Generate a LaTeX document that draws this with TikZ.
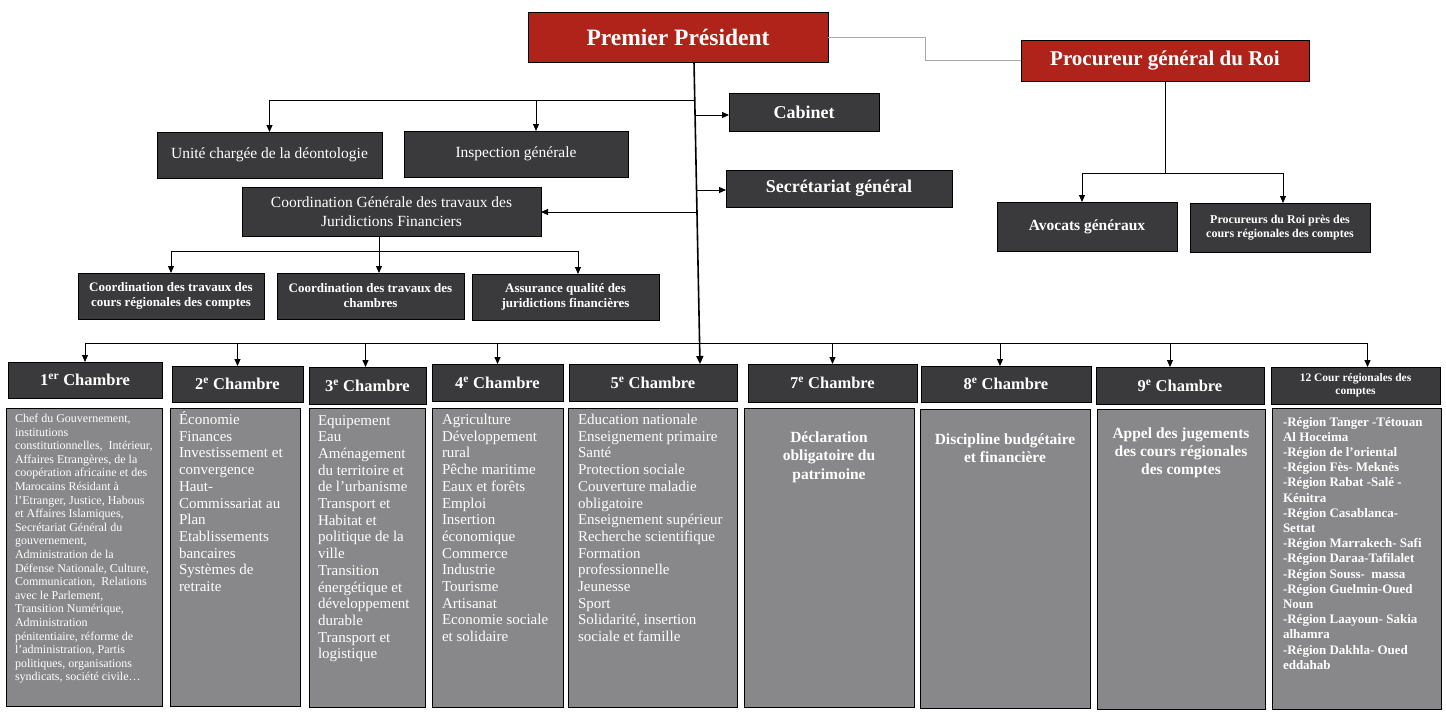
\documentclass[tikz,border=0pt]{standalone}
\usepackage{fontspec}
\setmainfont{Liberation Serif}
\usetikzlibrary{arrows.meta}
\definecolor{myred}{HTML}{B0231A}
\definecolor{mydark}{HTML}{3A3A3C}
\definecolor{mygrey}{HTML}{88888A}
\definecolor{lgrey}{HTML}{A8A8A8}
\tikzset{
  box/.style={draw=black, line width=1pt, inner sep=0pt, outer sep=0pt, anchor=north west, text=white, align=center},
  redbox/.style={box, fill=myred},
  darkbox/.style={box, fill=mydark},
  greybox/.style={box, fill=mygrey},
  txt/.style={inner sep=0pt, outer sep=0pt, anchor=base west, text=white},
  ctxt/.style={inner sep=0pt, outer sep=0pt, anchor=base, text=white},
  conn/.style={draw=black, line width=0.9pt},
  arr/.style={conn, -{Triangle[length=7pt,width=6pt]}},
  hdr/.style={darkbox, font=\fontsize{16.5}{19}\selectfont\bfseries},
  body/.style={font=\fontsize{15}{16.7}\selectfont},
  bbody/.style={font=\fontsize{15.5}{18.5}\selectfont\bfseries},
}
\begin{document}
\begin{tikzpicture}[x=1pt,y=-1pt]
\useasboundingbox (0,0) rectangle (1446,718);
\fill[white] (0,0) rectangle (1446,718);

% top level
\node[redbox, minimum width=300pt, minimum height=50pt, font=\fontsize{23.5}{28}\selectfont\bfseries] (pp) at (528,12) {Premier Président};
\node[redbox, minimum width=288pt, minimum height=41pt, font=\fontsize{21}{25}\selectfont\bfseries] (pg) at (1021,40) {Procureur général du Roi};
\node[darkbox, minimum width=150pt, minimum height=38pt, font=\fontsize{18}{22}\selectfont\bfseries] (cab) at (729,93) {Cabinet};
\node[darkbox, minimum width=226pt, minimum height=37pt, font=\fontsize{18}{22}\selectfont\bfseries] (sg) at (726,170) {Secrétariat général};
\node[darkbox, minimum width=225pt, minimum height=46pt, font=\fontsize{15.5}{19}\selectfont] (ud) at (157,132) {Unité chargée de la déontologie};
\node[darkbox, minimum width=224pt, minimum height=46pt, font=\fontsize{15.5}{19}\selectfont] (ig) at (404,131) {Inspection générale};
\node[darkbox, minimum width=299pt, minimum height=49pt, font=\fontsize{15.5}{19}\selectfont] (cg) at (242,187) {Coordination Générale des travaux des\\Juridictions Financiers};
\node[darkbox, minimum width=186pt, minimum height=46pt, font=\fontsize{13}{15}\selectfont\bfseries] (ct1) at (78,273) {Coordination des travaux des\\cours régionales des comptes};
\node[darkbox, minimum width=187pt, minimum height=46pt, font=\fontsize{13}{15}\selectfont\bfseries] (ct2) at (277,273) {Coordination des travaux des\\chambres};
\node[darkbox, minimum width=187pt, minimum height=46pt, font=\fontsize{13}{15}\selectfont\bfseries] (aq) at (472,274) {Assurance qualité des\\juridictions financières};
\node[darkbox, minimum width=180pt, minimum height=49pt, font=\fontsize{15.5}{19}\selectfont\bfseries] (av) at (997,202) {Avocats généraux};
\node[darkbox, minimum width=180pt, minimum height=49pt, font=\fontsize{12}{14}\selectfont\bfseries] (pr) at (1190,203) {Procureurs du Roi près des\\cours régionales des comptes};

% chamber headers
\node[hdr, minimum width=154pt, minimum height=36pt] (h1) at (8,362) {1\textsuperscript{er} Chambre};
\node[hdr, minimum width=131pt, minimum height=36pt] (h2) at (172,366) {2\textsuperscript{e} Chambre};
\node[hdr, minimum width=117pt, minimum height=37pt] (h3) at (309,367) {3\textsuperscript{e} Chambre};
\node[hdr, minimum width=131pt, minimum height=37pt] (h4) at (432,364) {4\textsuperscript{e} Chambre};
\node[hdr, minimum width=168pt, minimum height=37pt] (h5) at (569,364) {5\textsuperscript{e} Chambre};
\node[hdr, minimum width=169pt, minimum height=38pt] (h7) at (748,364) {7\textsuperscript{e} Chambre};
\node[hdr, minimum width=170pt, minimum height=36pt] (h8) at (921,366) {8\textsuperscript{e} Chambre};
\node[hdr, minimum width=168pt, minimum height=37pt] (h9) at (1096,367) {9\textsuperscript{e} Chambre};
\node[darkbox, minimum width=169pt, minimum height=37pt, font=\fontsize{11.5}{13}\selectfont\bfseries] (h12) at (1271,367) {12 Cour régionales des\\comptes};

% content boxes
\node[greybox, minimum width=156pt, minimum height=298pt] (c1) at (6,408) {};
\node[greybox, minimum width=130pt, minimum height=298pt] (c2) at (170,408) {};
\node[greybox, minimum width=116pt, minimum height=299pt] (c3) at (309,408) {};
\node[greybox, minimum width=131pt, minimum height=299pt] (c4) at (432,408) {};
\node[greybox, minimum width=169pt, minimum height=299pt] (c5) at (568,408) {};
\node[greybox, minimum width=170pt, minimum height=299pt] (c7) at (744,408) {};
\node[greybox, minimum width=170pt, minimum height=299pt] (c8) at (920,409) {};
\node[greybox, minimum width=168pt, minimum height=300pt] (c9) at (1097,409) {};
\node[greybox, minimum width=169pt, minimum height=301pt] (c12) at (1272,408) {};

% content texts
\node[txt, font=\fontsize{12}{13.6}\selectfont] (t1) at (15,422.5) {\parbox[t]{146pt}{\raggedright
Chef du Gouvernement,\\
institutions\\
constitutionnelles,\ \ Intérieur,\\
Affaires Etrangères, de la\\
coopération africaine et des\\
Marocains Résidant à\\
l’Etranger, Justice, Habous\\
et Affaires Islamiques,\\
Secrétariat Général du\\
gouvernement,\\
Administration de la\\
Défense Nationale, Culture,\\
Communication,\ \ Relations\\
avec le Parlement,\\
Transition Numérique,\\
Administration\\
pénitentiaire,\ réforme de\\
l’administration,\ Partis\\
politiques, organisations\\
syndicats, société civile…}};

\node[txt, body] (t2) at (179,424.5) {\parbox[t]{120pt}{\raggedright
Économie\\
Finances\\
Investissement et\\
convergence\\
Haut-\\
Commissariat au\\
Plan\\
Etablissements\\
bancaires\\
Systèmes de\\
retraite}};

\node[txt, body] (t3) at (318,425) {\parbox[t]{106pt}{\raggedright
Equipement\\
Eau\\
Aménagement\\
du territoire et\\
de l’urbanisme\\
Transport et\\
Habitat et\\
politique de la\\
ville\\
Transition\\
énergétique et\\
développement\\
durable\\
Transport et\\
logistique}};

\node[txt, body] (t4) at (442,424.5) {\parbox[t]{120pt}{\raggedright
Agriculture\\
Développement\\
rural\\
Pêche maritime\\
Eaux et forêts\\
Emploi\\
Insertion\\
économique\\
Commerce\\
Industrie\\
Tourisme\\
Artisanat\\
Economie sociale\\
et solidaire}};

\node[txt, body] (t5) at (578,424.5) {\parbox[t]{158pt}{\raggedright
Education nationale\\
Enseignement primaire\\
Santé\\
Protection sociale\\
Couverture maladie\\
obligatoire\\
Enseignement supérieur\\
Recherche scientifique\\
Formation\\
professionnelle\\
Jeunesse\\
Sport\\
Solidarité, insertion\\
sociale et famille}};

\node[ctxt, bbody] (t7) at (829,442) {\parbox[t]{160pt}{\centering
Déclaration\\
obligatoire du\\
patrimoine}};

\node[ctxt, bbody] (t8) at (1005,444) {\parbox[t]{165pt}{\centering
Discipline budgétaire\\
et financière}};

\node[ctxt, font=\fontsize{15.5}{18}\selectfont\bfseries] (t9) at (1181,438) {\parbox[t]{165pt}{\centering
Appel des jugements\\
des cours régionales\\
des comptes}};

\node[txt, font=\fontsize{13}{15.2}\selectfont\bfseries] (t12) at (1283,426) {\parbox[t]{157pt}{\raggedright
-Région Tanger -Tétouan\\
Al Hoceima\\
-Région de l’oriental\\
-Région Fès- Meknès\\
-Région Rabat -Salé -\\
Kénitra\\
-Région Casablanca-\\
Settat\\
-Région Marrakech- Safi\\
-Région Daraa-Tafilalet\\
-Région Souss-\ \ massa\\
-Région Guelmin-Oued\\
Noun\\
-Région Laayoun- Sakia\\
alhamra\\
-Région Dakhla- Oued\\
eddahab}};

% connectors
\draw[line width=1.6pt, -{Triangle[length=8pt,width=7pt]}] ([xshift=16pt]pp.south) -- ([xshift=47pt]h5.north);

\coordinate (gm) at (925,48);
\draw[lgrey, line width=1pt] (pp.east) -| (gm) |- (pg.west);

\coordinate (jA) at (695,100);
\draw[arr] (jA) -| (ud.north);
\draw[arr] ([xshift=20pt]ig.north |- jA) -- ([xshift=20pt]ig.north);
\coordinate (jB) at (695,115);
\draw[arr] (jB) -- (cab.west |- jB);
\coordinate (jC) at (696.5,190);
\draw[arr] (jC) -- (sg.west |- jC);
\coordinate (jD) at (697,212);
\draw[arr] (jD) -- (cg.east |- jD);

\coordinate (kC) at (379,251);
\draw[conn] (cg.south -| kC) -- (kC);
\draw[conn] (ct1.north |- kC) -- ([xshift=12.5pt]aq.north |- kC);
\draw[arr] (kC) -- (ct2.north -| kC);
\draw[arr] (ct1.north |- kC) -- (ct1.north);
\draw[arr] ([xshift=12.5pt]aq.north |- kC) -- ([xshift=12.5pt]aq.north);

\coordinate (kP) at (1165,173);
\draw[conn] (pg.south) -- (kP);
\draw[conn] ([xshift=-5pt]av.north |- kP) -- ([xshift=3pt]pr.north |- kP);
\draw[arr] ([xshift=-5pt]av.north |- kP) -- ([xshift=-5pt]av.north);
\draw[arr] ([xshift=3pt]pr.north |- kP) -- ([xshift=3pt]pr.north);

\coordinate (bus) at (0,343);
\draw[conn] (h1.north |- bus) -- ([xshift=12pt]h12.north |- bus);
\draw[arr] (h1.north |- bus) -- (h1.north);
\draw[arr] (h2.north |- bus) -- (h2.north);
\draw[arr] ([xshift=-2pt]h3.north |- bus) -- ([xshift=-2pt]h3.north);
\draw[arr] (h4.north |- bus) -- (h4.north);
\draw[arr] (h7.north |- bus) -- (h7.north);
\draw[arr] ([xshift=-6pt]h8.north |- bus) -- ([xshift=-6pt]h8.north);
\draw[arr] ([xshift=-10pt]h9.north |- bus) -- ([xshift=-10pt]h9.north);
\draw[arr] ([xshift=12pt]h12.north |- bus) -- ([xshift=12pt]h12.north);
\end{tikzpicture}
\end{document}
